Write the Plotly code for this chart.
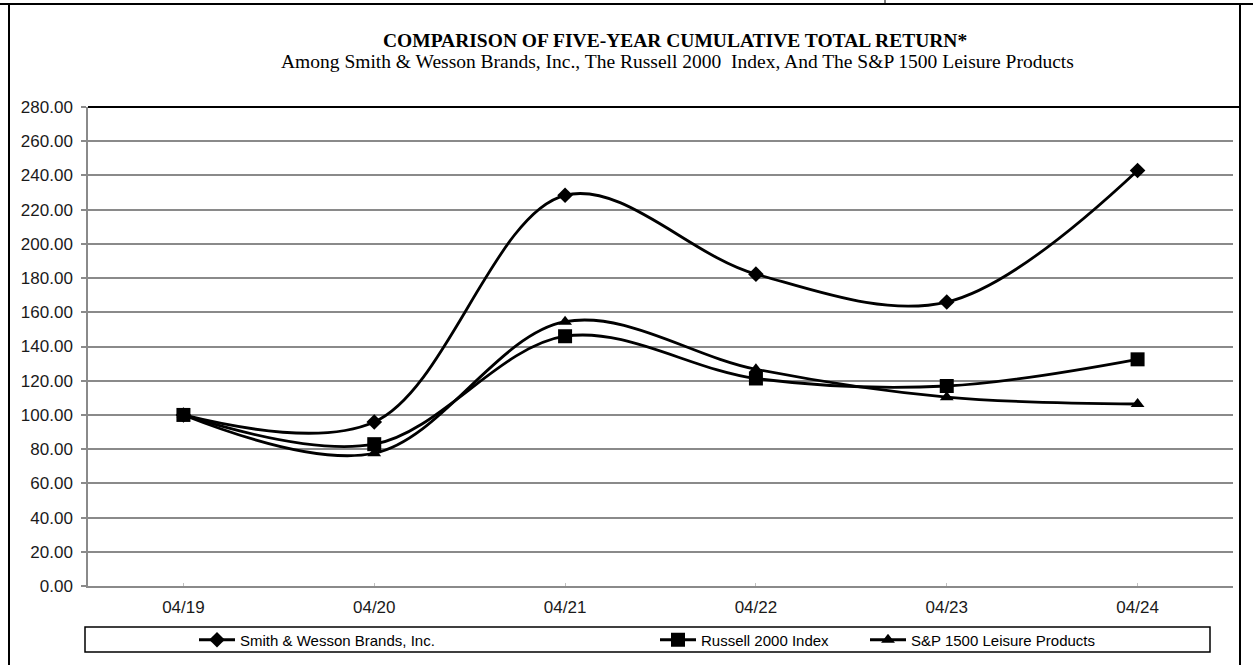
import plotly.graph_objects as go

categories = ["04/19", "04/20", "04/21", "04/22", "04/23", "04/24"]
smith_wesson = [100.00, 95.90, 228.40, 182.30, 166.00, 242.90]
russell_2000 = [100.00, 82.90, 146.00, 121.30, 116.90, 132.50]
sp_1500_leisure = [100.00, 77.60, 154.50, 126.70, 110.40, 106.40]
series_names = ["Smith & Wesson Brands, Inc.", "Russell 2000 Index", "S&P 1500 Leisure Products"]
y_ticks = [0, 20, 40, 60, 80, 100, 120, 140, 160, 180, 200, 220, 240, 260, 280]

W, H = 1253, 665
L, R, T, B = 88, 1233, 107, 586
pw, ph = R - L, B - T


def px(x):
    return (x - L) / pw


def py(y):
    return (B - y) / ph


fig = go.Figure()
markers = [("diamond", 12), ("square", 14), ("triangle-up", 12)]
legend_ids = ["legend", "legend2", "legend3"]
for name, vals, (sym, sz), lg in zip(series_names, [smith_wesson, russell_2000, sp_1500_leisure], markers, legend_ids):
    fig.add_trace(go.Scatter(
        x=categories, y=vals, name=name, mode="lines+markers", legend=lg,
        line=dict(color="black", width=2.8, shape="spline", smoothing=1.0),
        marker=dict(symbol=sym, size=sz, color="black"),
    ))

legend_font = dict(family="Liberation Sans, Arial", size=15, color="black")
legend_x = [194, 655, 865]
legend_common = dict(orientation="h", xanchor="left", y=py(640), yanchor="middle", font=legend_font,
                     bgcolor="rgba(0,0,0,0)", borderwidth=0, itemwidth=36)

fig.update_layout(
    width=W, height=H,
    margin=dict(l=L, r=W - R, t=T, b=H - B, autoexpand=False),
    paper_bgcolor="white", plot_bgcolor="white",
    showlegend=True,
    legend=dict(x=px(legend_x[0]), **legend_common),
    legend2=dict(x=px(legend_x[1]), **legend_common),
    legend3=dict(x=px(legend_x[2]), **legend_common),
    xaxis=dict(type="category", range=[-0.5, 5.5], showgrid=False,
               showline=True, linecolor="#8a8a8a", linewidth=1.5,
               ticks="inside", ticklen=3, tickwidth=1, tickcolor="#c0c0c0",
               tickfont=dict(family="Liberation Sans, Arial", size=17, color="#1a1a1a"),
               ticklabelstandoff=5, fixedrange=True),
    yaxis=dict(range=[0, 280], tickvals=y_ticks, ticktext=[f"{v:.2f}" for v in y_ticks],
               showgrid=True, gridcolor="#8a8a8a", gridwidth=1.5,
               showline=True, linecolor="#8a8a8a", linewidth=1.5,
               ticks="outside", ticklen=5, tickcolor="#8a8a8a", tickwidth=1.5,
               tickfont=dict(family="Liberation Sans, Arial", size=17, color="#1a1a1a"),
               ticklabelstandoff=5, zeroline=False, fixedrange=True),
)

shapes = [
    dict(type="line", xref="paper", yref="paper", x0=0, x1=px(1240), y0=1, y1=1,
         line=dict(color="black", width=2)),
    dict(type="line", xref="paper", yref="paper", x0=px(9), x1=px(9), y0=py(4), y1=py(670),
         line=dict(color="black", width=2)),
    dict(type="line", xref="paper", yref="paper", x0=px(0), x1=px(1253), y0=py(4), y1=py(4),
         line=dict(color="black", width=2)),
    dict(type="line", xref="paper", yref="paper", x0=px(1240), x1=px(1240), y0=py(4), y1=py(670),
         line=dict(color="black", width=2)),
    dict(type="line", xref="paper", yref="paper", x0=px(885), x1=px(885), y0=py(0), y1=py(4),
         line=dict(color="black", width=1)),
    dict(type="rect", xref="paper", yref="paper", x0=px(85), x1=px(1210), y0=py(627), y1=py(652),
         line=dict(color="black", width=1.5), fillcolor="rgba(0,0,0,0)"),
]
fig.update_layout(shapes=shapes)

fig.add_annotation(text="<b>COMPARISON OF FIVE-YEAR CUMULATIVE TOTAL RETURN*</b>",
                   xref="paper", yref="paper", x=px(675), y=py(40), xanchor="center", yanchor="middle",
                   showarrow=False, font=dict(family="Liberation Serif, Times New Roman", size=19.5, color="black"))
fig.add_annotation(text="Among Smith &amp; Wesson Brands, Inc., The Russell 2000  Index, And The S&amp;P 1500 Leisure Products",
                   xref="paper", yref="paper", x=px(677), y=py(61), xanchor="center", yanchor="middle",
                   showarrow=False, font=dict(family="Liberation Serif, Times New Roman", size=19.5, color="black"))

fig.write_html("out.html", config={"displayModeBar": False},
               post_script="document.body.style.margin='0px';document.body.style.overflow='hidden';")
